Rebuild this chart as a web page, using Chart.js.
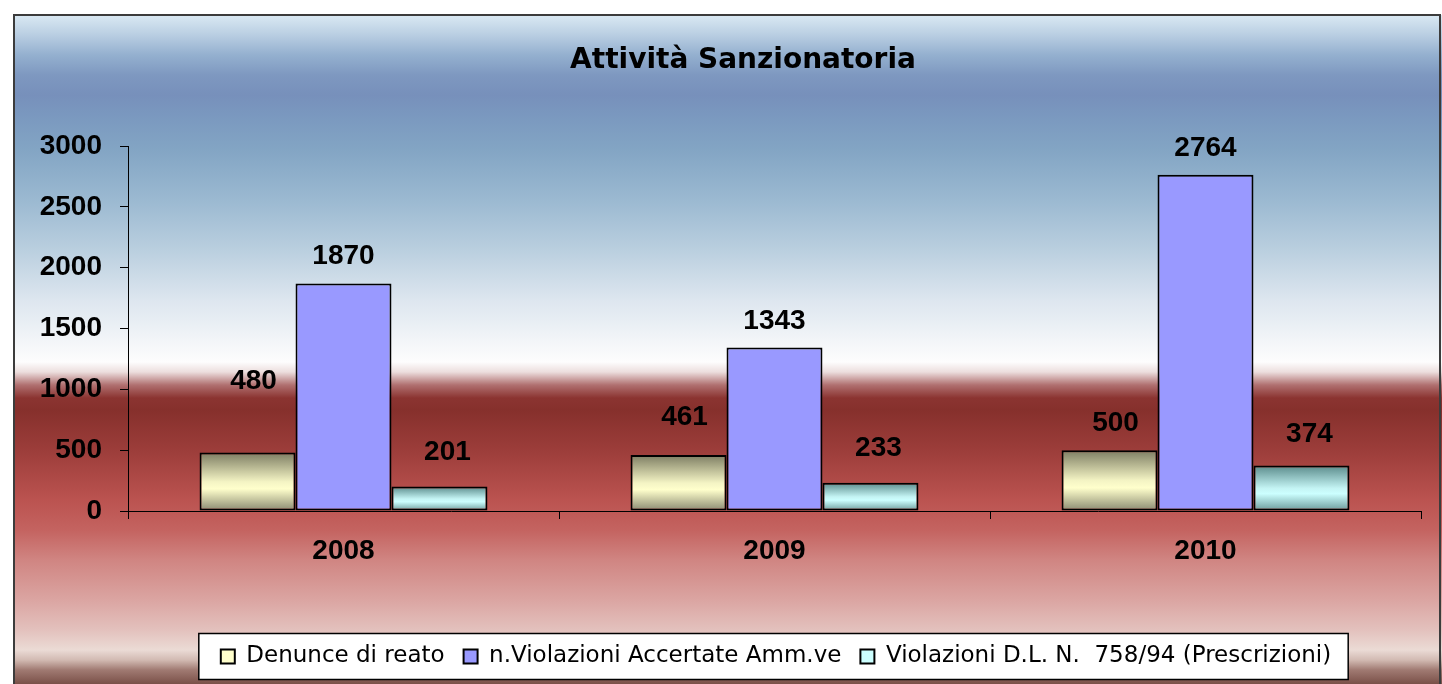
<!DOCTYPE html>
<html>
<head>
<meta charset="utf-8">
<script src="https://cdn.jsdelivr.net/npm/chart.js@4.4.1/dist/chart.umd.min.js"></script>
<style>
html,body{margin:0;padding:0;background:#fff;}
#wrap{position:relative;width:1442px;height:684px;}
</style>
</head>
<body>
<div id="wrap"><canvas id="c"></canvas></div>
<script>
// ---- data ----
const chartTitle = 'Attività Sanzionatoria';
const categories = ['2008', '2009', '2010'];
const seriesNames = ['Denunce di reato', 'n.Violazioni Accertate Amm.ve', 'Violazioni D.L. N.  758/94 (Prescrizioni)'];
const denunce = [480, 461, 500];
const violazioniAmm = [1870, 1343, 2764];
const violazioniDL = [201, 233, 374];
const yTicks = [0, 500, 1000, 1500, 2000, 2500, 3000];

// ---- styles ----
const legendColors = ['#ffffcc', '#9999ff', '#ccffff'];
const yellowStops = [[0, '#7c7c62'], [0.5, '#f4f4c4'], [0.62, '#ffffcc'], [1, '#888870']];
const cyanStops = [[0, '#5a8a8a'], [0.5, '#c4f4f4'], [0.62, '#ccffff'], [1, '#6a9898']];
const bgStops = [
  [15, '#dae9f3'], [35, '#b9cee2'], [55, '#94b0cf'], [75, '#7e98c0'], [95, '#7790bb'],
  [115, '#7a98bf'], [150, '#83a5c4'], [200, '#9bb9d1'], [250, '#bacfdf'], [300, '#dde6ef'],
  [340, '#f2f5f8'], [362, '#fdfdfd'], [372, '#ecdedd'], [385, '#b07070'], [398, '#8b3431'],
  [410, '#86302c'], [450, '#9c3d3a'], [500, '#bb5350'], [530, '#c46360'], [560, '#d08582'],
  [600, '#dba5a2'], [630, '#e3c1bd'], [650, '#ebdbd5'], [660, '#d2bab2'], [670, '#a07a72'], [684, '#7a5048']
];

function barGradient(stops) {
  return (ctx) => {
    const chart = ctx.chart;
    if (!chart.chartArea || ctx.type !== 'data' || !ctx.parsed) return stops[2][1];
    const y = chart.scales.y;
    const top = y.getPixelForValue(ctx.parsed.y);
    const bottom = y.getPixelForValue(0);
    const g = chart.ctx.createLinearGradient(0, top, 0, bottom);
    stops.forEach(([o, c]) => g.addColorStop(o, c));
    return g;
  };
}

const framePlugin = {
  id: 'frame',
  afterLayout(chart) {
    const t = chart.titleBlock;
    if (t) { const s = 743 - (t.left + t.right) / 2; t.left += s; t.right += s; }
    const lg = chart.legend;
    if (lg) { const s = 776 - (lg.left + lg.right) / 2; lg.left += s; lg.right += s; }
  },
  beforeDraw(chart) {
    const c = chart.ctx, W = chart.width, H = chart.height;
    c.save();
    c.fillStyle = '#fff';
    c.fillRect(0, 0, W, H);
    const g = c.createLinearGradient(0, 0, 0, H);
    bgStops.forEach(([y, col]) => g.addColorStop(Math.min(1, y / H), col));
    c.fillStyle = g;
    c.fillRect(14, 15, W - 14, H - 15);
    c.strokeStyle = '#3c3c3c';
    c.lineWidth = 2;
    c.beginPath();
    c.moveTo(14, H); c.lineTo(14, 15); c.lineTo(W - 2, 15); c.lineTo(W - 2, H);
    c.stroke();
    const lg = chart.legend;
    const hb = lg && lg.legendHitBoxes;
    if (hb && hb.length) {
      const last = hb[hb.length - 1];
      const l = hb[0].left - 22, r = last.left + last.width + 17;
      const mid = hb[0].top + hb[0].height / 2;
      c.fillStyle = '#fff';
      c.fillRect(l, mid - 23, r - l, 46);
      c.strokeStyle = '#000';
      c.lineWidth = 1.5;
      c.strokeRect(l, mid - 23, r - l, 46);
    }
    c.restore();
  }
};

const valueLabels = {
  id: 'valueLabels',
  afterDatasetsDraw(chart) {
    const dx = [6, 0, 8];
    const dy = [[71, 38, 27], [27, 26, 26], [34, 34, 31]];
    const c = chart.ctx;
    c.save();
    c.font = 'bold 28px "Liberation Sans", Arial, sans-serif';
    c.fillStyle = '#000';
    c.textAlign = 'center';
    c.textBaseline = 'middle';
    chart.data.datasets.forEach((ds, di) => {
      const meta = chart.getDatasetMeta(di);
      meta.data.forEach((bar, i) => {
        c.fillText(String(ds.data[i]), bar.x + dx[di], bar.y - dy[di][i]);
      });
    });
    c.restore();
  }
};

const boldFont = { family: '"Liberation Sans", Arial, sans-serif', size: 28, weight: 'bold' };

new Chart(document.getElementById('c'), {
  type: 'bar',
  data: {
    labels: categories,
    datasets: [
      { label: seriesNames[0], data: denunce, backgroundColor: barGradient(yellowStops) },
      { label: seriesNames[1], data: violazioniAmm, backgroundColor: '#9999ff' },
      { label: seriesNames[2], data: violazioniDL, backgroundColor: barGradient(cyanStops) }
    ].map(d => Object.assign(d, {
      borderColor: '#000', borderWidth: 2, borderSkipped: false,
      categoryPercentage: 0.668, barPercentage: 1
    }))
  },
  options: {
    responsive: true,
    maintainAspectRatio: false,
    animation: false,
    events: [],
    layout: { padding: { top: 44, left: 0, right: 21, bottom: 6 } },
    plugins: {
      title: {
        display: true, text: chartTitle, color: '#000',
        font: { family: '"DejaVu Sans", sans-serif', size: 28, weight: 'bold' },
        padding: { top: 0, bottom: 68.4 }
      },
      legend: {
        position: 'bottom',
        labels: {
          boxWidth: 14, boxHeight: 14, padding: 19, color: '#000',
          font: { family: '"DejaVu Sans", sans-serif', size: 23 },
          generateLabels(chart) {
            return chart.data.datasets.map((ds, i) => ({
              text: ds.label, fillStyle: legendColors[i], strokeStyle: '#000',
              lineWidth: 2, hidden: false, datasetIndex: i, fontColor: '#000'
            }));
          }
        }
      },
      tooltip: { enabled: false }
    },
    scales: {
      x: {
        grid: { display: true, drawOnChartArea: false, drawTicks: true, tickLength: 8, color: '#000', offset: true },
        border: { display: true, color: '#000', width: 1 },
        ticks: { color: '#000', font: boldFont, padding: 15 },
        afterFit(s) { s.height = 115; }
      },
      y: {
        min: 0, max: 3000,
        afterBuildTicks(s) { s.ticks = yTicks.map(v => ({ value: v })); },
        grid: { display: true, drawOnChartArea: false, drawTicks: true, tickLength: 8, color: '#000' },
        border: { display: true, color: '#000', width: 1 },
        ticks: { color: '#000', font: boldFont, padding: 18, callback: (v) => String(v) },
        afterFit(s) { s.width = 128; }
      }
    }
  },
  plugins: [framePlugin, valueLabels]
});
</script>
</body>
</html>
